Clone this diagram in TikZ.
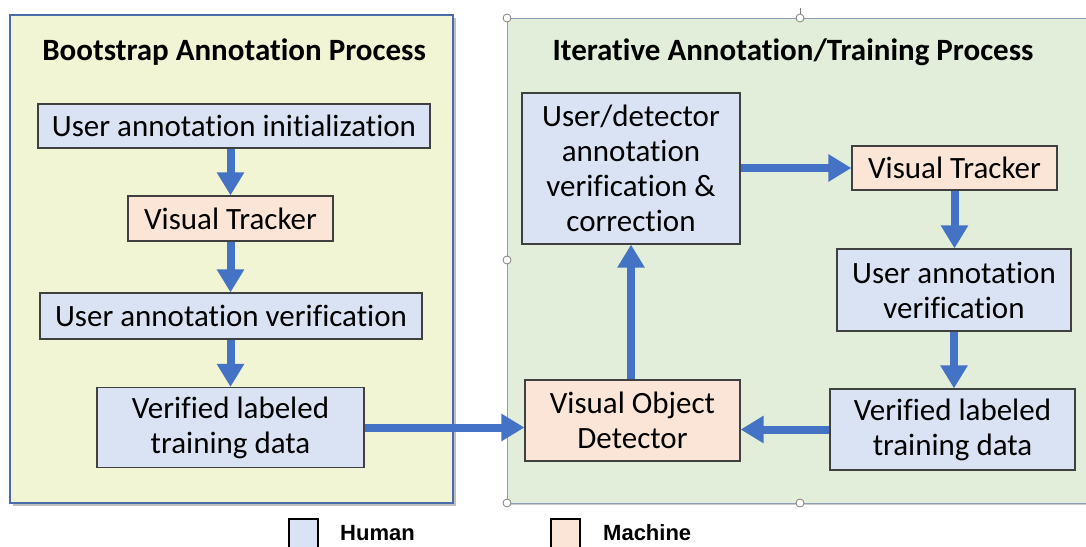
\documentclass[tikz,border=0pt]{standalone}
\usepackage{fontspec}
\setmainfont[Ligatures=NoCommon]{Carlito}
\newfontfamily\legendfont{Liberation Sans}
\usetikzlibrary{arrows.meta}
\definecolor{humanblue}{HTML}{DAE3F3}
\definecolor{machinepeach}{HTML}{FBE5D6}
\definecolor{bootyellow}{HTML}{F2F5D3}
\definecolor{itergreen}{HTML}{E2EEDA}
\definecolor{flowblue}{HTML}{4472C4}
\definecolor{panelblue}{HTML}{4A6CA8}
\definecolor{panelgray}{HTML}{8C9DB8}
\definecolor{boxline}{HTML}{404040}

\begin{document}
\begin{tikzpicture}[x=1pt, y=-1pt]
\tikzstyle{every node}=[font=\fontsize{31}{35}\selectfont, align=center, inner sep=0pt];
\tikzstyle{human}=[draw=boxline, fill=humanblue, line width=1.2pt];
\tikzstyle{machine}=[draw=boxline, fill=machinepeach, line width=1.2pt];
\tikzstyle{flow}=[draw=flowblue, line width=8pt, -{Triangle[length=23pt,width=26pt]}];
\tikzstyle{title}=[font=\bfseries\fontsize{31}{34}\selectfont];
\tikzstyle{keybox}=[draw=black, line width=2pt, minimum size=29pt];
\tikzstyle{keytext}=[font=\legendfont\bfseries\fontsize{22}{24}\selectfont, anchor=west];
\useasboundingbox (0,0) rectangle (1086,546);

% panels
\fill[black!25] (13,18) rectangle (456,506);
\draw[draw=panelblue, line width=2pt, fill=bootyellow] (10,15) rectangle (453,503);
\fill[black!20] (509,20) rectangle (1100,505);
\draw[draw=panelgray, line width=0.8pt, fill=itergreen] (507,18) rectangle (1100,503);
\draw[gray] (800,8) -- (800,14);
\foreach \p in {(507,18),(800,18),(507,260),(507,503),(800,503)}
{
\draw[gray, fill=white, line width=0.8pt] \p circle (4pt);
}

\node[title] (boottitle) at (234,52) {Bootstrap Annotation Process};
\node[title] (itertitle) at (793,52) {Iterative Annotation/Training Process};

% bootstrap column
\node[human, minimum width=392pt, minimum height=44pt] (init) at (234,126) {User annotation initialization};
\node[machine, minimum width=205pt, minimum height=45pt] (ltrack) at (230.5,218.5) {Visual Tracker};
\node[human, minimum width=382pt, minimum height=46pt] (lver) at (231,316) {User annotation verification};
\node[human, minimum width=267pt, minimum height=80pt] (ldata) at (230.5,427.5) {Verified labeled\\training data};

% iterative loop
\node[human, minimum width=218pt, minimum height=151pt] (ud) at (631,168.5) {User/detector\\annotation\\verification \&\\correction};
\node[machine, minimum width=205pt, minimum height=44pt] (rtrack) at (954.5,168) {Visual Tracker};
\node[human, minimum width=234pt, minimum height=82pt] (rver) at (954,290) {User annotation\\verification};
\node[human, minimum width=245pt, minimum height=81pt] (rdata) at (952.5,429.5) {Verified labeled\\training data};
\node[machine, minimum width=215pt, minimum height=81pt] (vod) at (632.5,420.5) {Visual Object\\Detector};

\draw[flow] (init.south -| ltrack) -- (ltrack.north);
\draw[flow] (ltrack.south) -- (lver.north -| ltrack);
\draw[flow] (lver.south -| ltrack) -- (ldata.north -| ltrack);
\draw[flow] (ldata.east) -- (vod.west |- ldata.east);
\draw[flow] (vod.north -| ud) -- (ud.south);
\draw[flow] (ud.east |- rtrack.west) -- (rtrack.west);
\draw[flow] (rtrack.south) -- (rver.north -| rtrack);
\draw[flow] (rver.south) -- (rdata.north -| rver);
\draw[flow] (rdata.west) -- (vod.east |- rdata.west);

% legend
\node[keybox, fill=humanblue] (humankey) at (303,533) {};
\node[keytext] (humanlabel) at (340,533) {Human};
\node[keybox, fill=machinepeach] (machinekey) at (565,533) {};
\node[keytext] (machinelabel) at (603,533) {Machine};
\end{tikzpicture}
\end{document}
